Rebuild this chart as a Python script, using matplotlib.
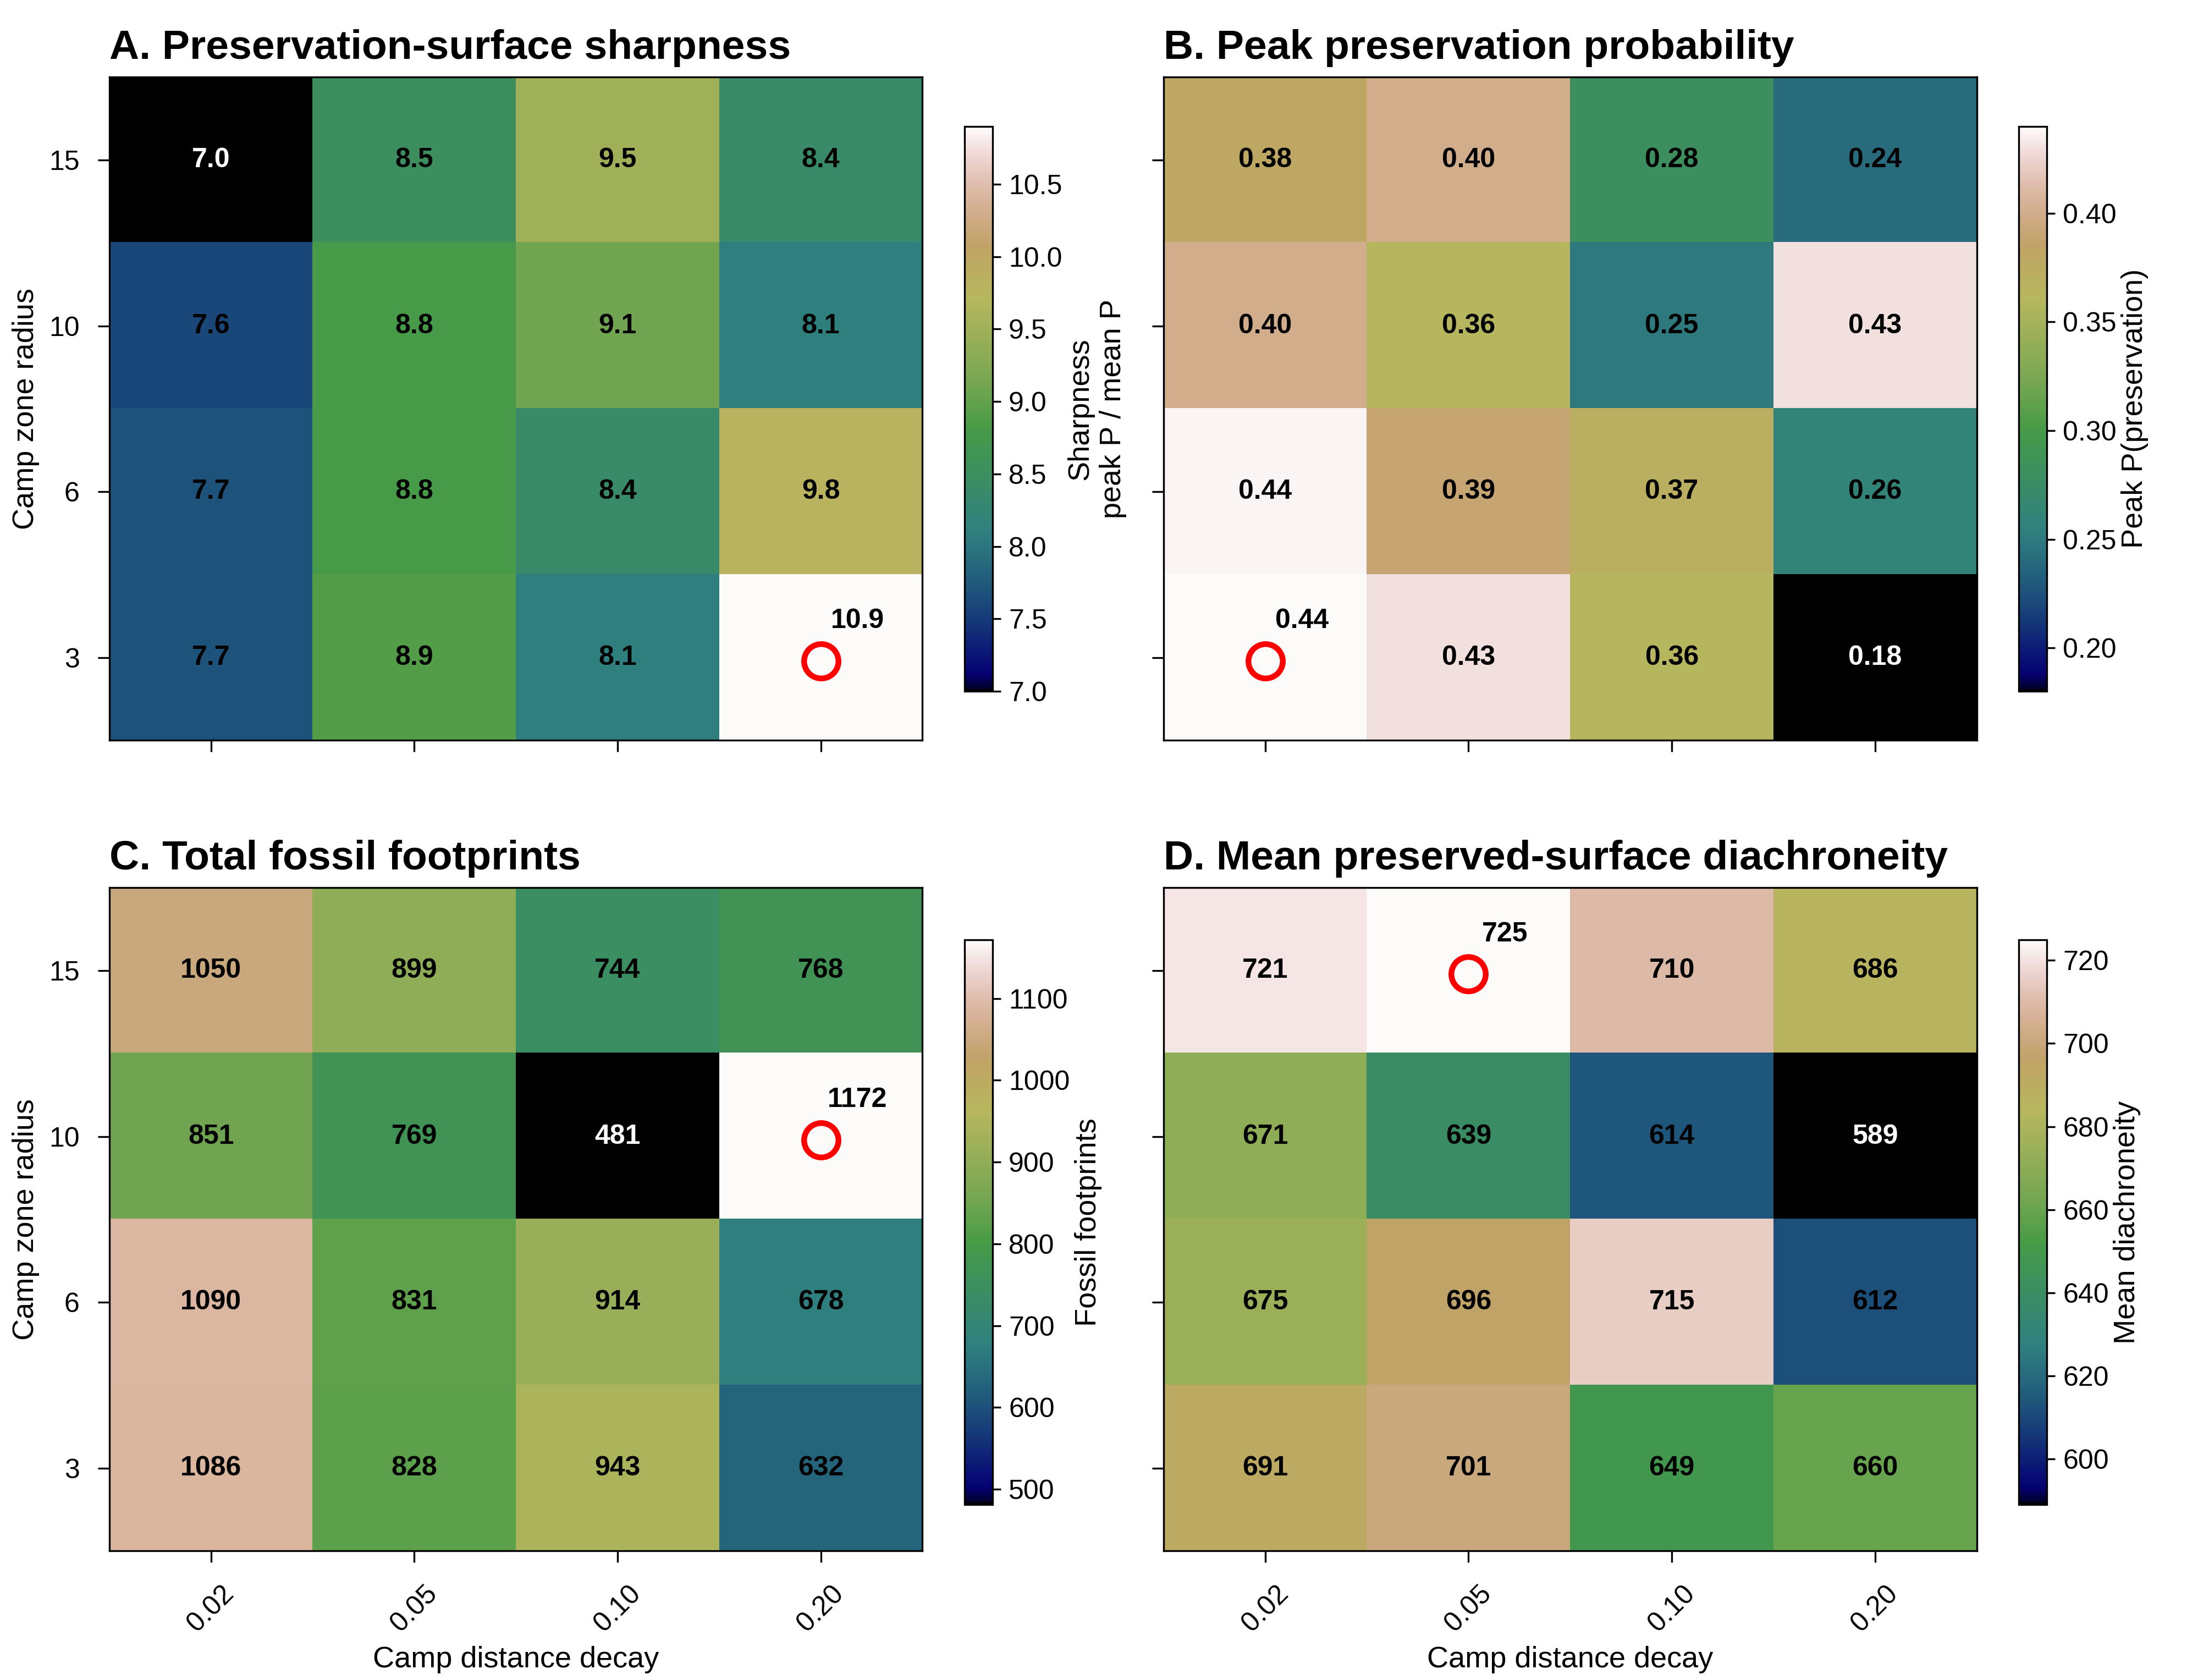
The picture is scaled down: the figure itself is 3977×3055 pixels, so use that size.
import matplotlib
import numpy as np

matplotlib.use("Agg")
import matplotlib.pyplot as plt

decay_labels = ["0.02", "0.05", "0.10", "0.20"]
radius_labels = ["15", "10", "6", "3"]  # top to bottom

sharpness = [[7.0, 8.5, 9.5, 8.4],
             [7.6, 8.8, 9.1, 8.1],
             [7.7, 8.8, 8.4, 9.8],
             [7.7, 8.9, 8.1, 10.9]]
peak_p = [[0.38, 0.40, 0.28, 0.24],
          [0.40, 0.36, 0.25, 0.43],
          [0.437, 0.39, 0.37, 0.26],
          [0.44, 0.43, 0.36, 0.18]]
footprints = [[1050, 899, 744, 768],
              [851, 769, 481, 1172],
              [1090, 831, 914, 678],
              [1086, 828, 943, 632]]
diachron = [[721, 725, 710, 686],
            [671, 639, 614, 589],
            [675, 696, 715, 612],
            [691, 701, 649, 660]]

panels = [
    ("A. Preservation-surface sharpness", sharpness, "{:.1f}", "Sharpness", "Camp zone radius",
     np.arange(7.0, 10.51, 0.5), "{:.1f}"),
    ("B. Peak preservation probability", peak_p, "{:.2f}", "Peak P(preservation)", "peak P / mean P",
     np.arange(0.20, 0.401, 0.05), "{:.2f}"),
    ("C. Total fossil footprints", footprints, "{:.0f}", "Fossil footprints", "Camp zone radius",
     np.arange(500, 1101, 100), "{:.0f}"),
    ("D. Mean preserved-surface diachroneity", diachron, "{:.0f}", "Mean diachroneity", None,
     np.arange(600, 721, 20), "{:.0f}"),
]

W, H = 1560, 1198
axes_px = [(78, 55), (830, 55), (78, 633), (830, 633)]
cbar_px = [(688, 90), (1440, 90), (688, 670), (1440, 670)]

plt.rcParams["font.family"] = ["Liberation Sans", "DejaVu Sans"]
fig = plt.figure(figsize=(3977 / 300, 3055 / 300), dpi=300)

for i, (title, data, fmt, clabel, ylabel, cticks, cfmt) in enumerate(panels):
    arr = np.array(data, dtype=float)
    x0, y0 = axes_px[i]
    ax = fig.add_axes([x0 / W, 1 - (y0 + 473) / H, 580 / W, 473 / H])
    im = ax.imshow(arr, cmap="gist_earth", aspect="auto", vmin=arr.min(), vmax=arr.max())
    imax = np.unravel_index(np.argmax(arr), arr.shape)
    imin = np.unravel_index(np.argmin(arr), arr.shape)
    for r in range(4):
        for c in range(4):
            if (r, c) == imax:
                ax.plot(c, r + 0.02, "o", ms=15, mfc="none", mec="red", mew=2.5)
                ax.text(c + 0.18, r - 0.22, fmt.format(arr[r, c]), ha="center", va="center",
                        fontsize=12, fontweight="bold")
            else:
                color = "white" if (r, c) == imin else "black"
                ax.text(c, r, fmt.format(arr[r, c]), ha="center", va="center",
                        fontsize=12, fontweight="bold", color=color)
    ax.set_title(title, loc="left", fontsize=18, fontweight="bold", x=0.0, pad=8)
    ax.set_xticks(range(4))
    ax.set_yticks(range(4))
    if i >= 2:
        ax.set_xticklabels(decay_labels, rotation=45, fontsize=12)
        ax.set_xlabel("Camp distance decay", fontsize=13)
    else:
        ax.set_xticklabels([])
    if i % 2 == 0:
        ax.set_yticklabels(radius_labels, fontsize=12)
    else:
        ax.set_yticklabels([])
    if ylabel:
        ax.set_ylabel(ylabel, fontsize=13)
        if i % 2:
            ax.yaxis.set_label_coords(-0.045, 0.5)
    ax.tick_params(length=5, pad=8)
    cx, cy = cbar_px[i]
    cax = fig.add_axes([cx / W, 1 - (cy + 403) / H, 20 / W, 403 / H])
    cb = fig.colorbar(im, cax=cax)
    cb.set_ticks(cticks)
    cb.set_ticklabels([cfmt.format(t) for t in cticks])
    cb.ax.tick_params(labelsize=12)
    cb.set_label(clabel, fontsize=13, labelpad=2)

fig.savefig("out.png", dpi=300)
plt.close(fig)
